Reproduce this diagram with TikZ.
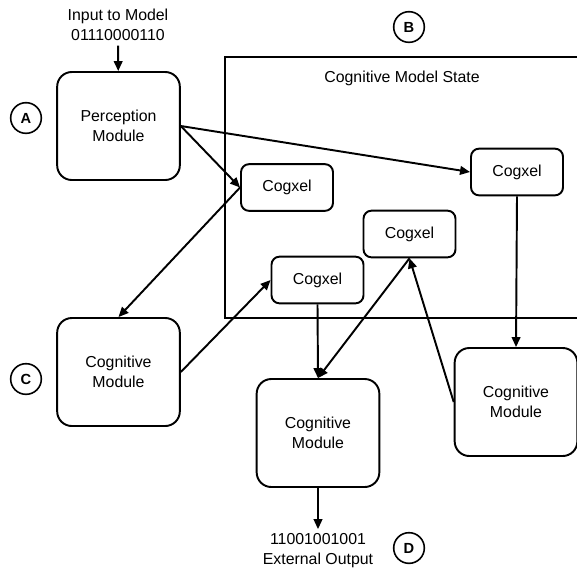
\documentclass[tikz,border=0pt]{standalone}
\usepackage{fontspec}
\setmainfont{Liberation Sans}
\usetikzlibrary{arrows.meta}
\begin{document}
\begin{tikzpicture}[x=0.75pt,y=-0.75pt,
  every node/.style={font=\fontsize{11.9}{15}\selectfont, align=center},
  module/.style={draw, line width=1.45pt, rounded corners=11pt, minimum width=92pt, minimum height=81pt, inner sep=0pt},
  cogxel/.style={draw, line width=1.45pt, rounded corners=6pt, minimum width=69pt, minimum height=35pt, inner sep=0pt},
  tag/.style={draw, circle, line width=1.2pt, minimum size=23pt, inner sep=0pt, font=\fontsize{11}{12}\selectfont\bfseries},
  conn/.style={line width=1.45pt, -{Triangle[length=7.5pt,width=6.5pt]}}]
\useasboundingbox (0,0) rectangle (577,569);
% frame of the cognitive model state
\draw[line width=1.45pt] (580,57) -- (225,57) -- (225,318) -- (580,318);
\node (title) at (402,78) {Cognitive Model State};
% nodes
\node (input) at (118,25) {Input to Model\\01110000110};
\node[module] (perc) at (118.5,126) {Perception\\Module};
\node[module] (cmC) at (118.5,372) {Cognitive\\Module};
\node[module] (cmB) at (318,433) {Cognitive\\Module};
\node[module] (cmR) at (516,402) {Cognitive\\Module};
\node[cogxel] (cx1) at (287,187.5) {Cogxel};
\node[cogxel] (cx2) at (517,172) {Cogxel};
\node[cogxel] (cx3) at (409.5,234) {Cogxel};
\node[cogxel] (cx4) at (317.5,280) {Cogxel};
\node (out) at (318,551) {11001001001\\External Output};
% letter tags
\node[tag] (tA) at (26,118) {A};
\node[tag] (tB) at (409,27) {B};
\node[tag] (tC) at (26,379) {C};
\node[tag] (tD) at (409,548) {D};
% connectors
\draw[conn] (input) -- (perc);
\draw[conn] (perc.east) -- (cx1.west);
\draw[conn] (perc.east) -- (cx2.west);
\draw[conn] (cx1.west) -- (cmC.north);
\draw[conn] (cmC.east) -- (cx4.west);
\draw[conn] (cx4.south) -- (cmB.north);
\draw[conn] (cx3.south) -- (cmB.north);
\draw[conn] (cmR.west) -- (cx3.south);
\draw[conn] (cx2.south) -- (cmR.north);
\draw[conn] (cmB.south) -- (out.north);
\end{tikzpicture}
\end{document}
